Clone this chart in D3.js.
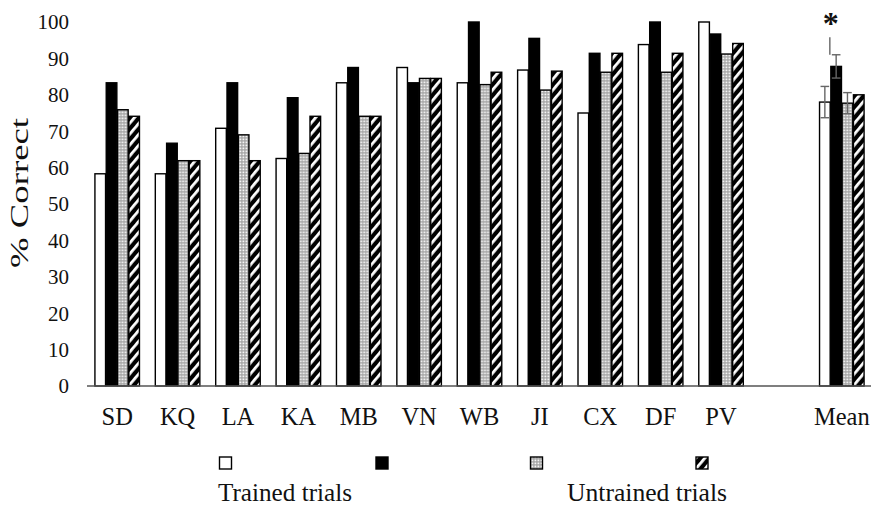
<!DOCTYPE html>
<html>
<head>
<meta charset="utf-8">
<script src="https://cdn.jsdelivr.net/npm/d3@7/dist/d3.min.js"></script>
<style>
  html, body { margin: 0; padding: 0; background: #fff; }
  svg { display: block; }
  text { font-family: "Liberation Serif", "Times New Roman", serif; fill: #111; }
</style>
</head>
<body>
<svg id="chart" width="871" height="505"></svg>
<script>
// ---- data ----
const categories = ["SD","KQ","LA","KA","MB","VN","WB","JI","CX","DF","PV","Mean"];
const seriesNames = ["Trained A","Trained B","Untrained A","Untrained B"];
const trainedA   = [58.3, 58.3, 70.8, 62.5, 83.3, 87.5, 83.3, 86.8, 75.0, 93.8, 100, 78.0];
const trainedB   = [83.3, 66.7, 83.3, 79.2, 87.5, 83.3, 100, 95.5, 91.4, 100, 96.7, 87.8];
const untrainedA = [75.9, 61.9, 69.0, 63.9, 74.1, 84.5, 82.8, 81.3, 86.2, 86.2, 91.2, 77.7];
const untrainedB = [74.1, 61.9, 61.9, 74.1, 74.1, 84.5, 86.2, 86.5, 91.4, 91.4, 94.1, 80.0];
const meanErr    = [4.3, 3.2, 2.9, null];
const sigTop     = 95.8;
const yTicks     = [0,10,20,30,40,50,60,70,80,90,100];
const legendGroups = ["Trained trials","Untrained trials"];

const seriesValues = [trainedA, trainedB, untrainedA, untrainedB];
const slots = categories.slice(0, 11).concat(["__gap__"], categories.slice(11));

const svg = d3.select("#chart");
const defs = svg.append("defs");

// dotted pattern
const pd = defs.append("pattern").attr("id","dots").attr("patternUnits","userSpaceOnUse")
  .attr("width",3).attr("height",3);
pd.append("rect").attr("width",3).attr("height",3).attr("fill","#a0a0a0");
pd.append("rect").attr("x",0.5).attr("y",0.5).attr("width",1.8).attr("height",1.8).attr("fill","#f6f6f6");

// hatched pattern
const ph = defs.append("pattern").attr("id","hatch").attr("patternUnits","userSpaceOnUse")
  .attr("width",7).attr("height",7).attr("patternTransform","rotate(40)");
ph.append("rect").attr("width",7).attr("height",7).attr("fill","#000");
ph.append("rect").attr("x",0).attr("y",0).attr("width",2.8).attr("height",7).attr("fill","#fff");

const fills = ["#fff", "#000", "url(#dots)", "url(#hatch)"];

const x0 = d3.scaleBand().domain(slots).range([87, 872]).paddingInner(0.24).paddingOuter(0.12);
const x1 = d3.scaleBand().domain(d3.range(4)).range([0, x0.bandwidth()]).padding(0.06);
const y = d3.scaleLinear().domain([0, 100]).range([386, 22]);

// y tick labels
svg.append("g").selectAll("text").data(yTicks).join("text")
  .attr("x", 69).attr("y", d => y(d)).attr("dy", "0.35em")
  .attr("text-anchor", "end").attr("font-size", 21).text(d => d);

// y title
svg.append("text").attr("transform", "translate(28,193) rotate(-90)")
  .attr("text-anchor", "middle").attr("font-size", 25)
  .attr("textLength", 150).attr("lengthAdjust", "spacingAndGlyphs").text("% Correct");

// bars
const groups = svg.append("g").selectAll("g").data(categories).join("g")
  .attr("transform", c => `translate(${x0(c)},0)`);
groups.selectAll("rect").data((c, i) => seriesValues.map((s, k) => ({k, v: s[i]})))
  .join("rect")
  .attr("x", d => x1(d.k)).attr("width", x1.bandwidth())
  .attr("y", d => y(d.v)).attr("height", d => y(0) - y(d.v))
  .attr("fill", d => fills[d.k]).attr("stroke", "#000").attr("stroke-width", 1.4);

// baseline
svg.append("line").attr("x1", 87).attr("x2", 871).attr("y1", y(0)).attr("y2", y(0))
  .attr("stroke", "#555").attr("stroke-width", 1.5);

// error bars on Mean
const mi = categories.length - 1;
const eg = svg.append("g").attr("transform", `translate(${x0("Mean")},0)`)
  .attr("stroke", "#666").attr("stroke-width", 1.4);
meanErr.forEach((e, k) => {
  if (e == null) return;
  const v = seriesValues[k][mi];
  const cx = x1(k) + x1.bandwidth() / 2;
  const hw = x1.bandwidth() / 2 - 1;
  eg.append("line").attr("x1", cx).attr("x2", cx).attr("y1", y(v - e)).attr("y2", y(v + e));
  eg.append("line").attr("x1", cx - hw).attr("x2", cx + hw).attr("y1", y(v + e)).attr("y2", y(v + e));
  eg.append("line").attr("x1", cx - hw).attr("x2", cx + hw).attr("y1", y(v - e)).attr("y2", y(v - e));
});
// significance line and asterisk
const sx = x0("Mean") + x1(1) - 1;
svg.append("line").attr("x1", sx).attr("x2", sx)
  .attr("y1", y(sigTop)).attr("y2", y(trainedB[mi] + meanErr[1]))
  .attr("stroke", "#666").attr("stroke-width", 1.4);
svg.append("text").attr("x", sx + 1).attr("y", 34).attr("text-anchor", "middle")
  .attr("font-family", "DejaVu Sans").attr("font-weight", "bold").attr("font-size", 32).text("*");

// x labels
svg.append("g").selectAll("text").data(categories).join("text")
  .attr("x", c => x0(c) + x0.bandwidth() / 2).attr("y", 425)
  .attr("text-anchor", "middle").attr("font-size", 24.5).text(c => c);

// legend
const legX = [225.5, 382, 536.5, 702];
const lg = svg.append("g");
legX.forEach((lx, k) => {
  lg.append("rect").attr("x", lx - 6).attr("y", 457).attr("width", 12).attr("height", 12)
    .attr("fill", fills[k]).attr("stroke", "#000").attr("stroke-width", 1.4);
});
lg.append("text").attr("x", 218).attr("y", 501).attr("font-size", 25)
  .attr("textLength", 134).attr("lengthAdjust", "spacingAndGlyphs").text(legendGroups[0]);
lg.append("text").attr("x", 567).attr("y", 501).attr("font-size", 25)
  .attr("textLength", 160).attr("lengthAdjust", "spacingAndGlyphs").text(legendGroups[1]);
</script>
</body>
</html>
